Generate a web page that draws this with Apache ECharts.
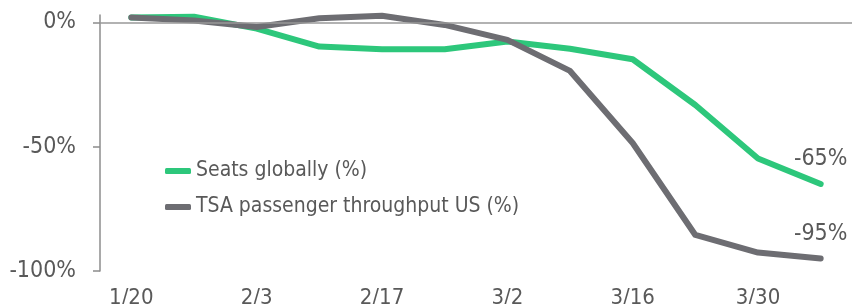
<!DOCTYPE html>
<html><head><meta charset="utf-8">
<script src="https://cdn.jsdelivr.net/npm/echarts@6/dist/echarts.min.js"></script>
<style>html,body{margin:0;padding:0;background:#fff}#c{width:852px;height:304px}</style>
</head><body><div id="c"></div>
<script>
var categories = ['1/20','1/27','2/3','2/10','2/17','2/24','3/2','3/9','3/16','3/23','3/30','4/6'];
var seatsGlobally = [2, 2.3, -2.5, -9.7, -10.8, -10.8, -7.7, -10.6, -14.8, -33.2, -54.7, -65];
var tsaThroughput = [2, 0.8, -1.8, 1.7, 2.7, -1, -7, -19.5, -48.5, -85.5, -92.6, -95];
var yTicks = [-100, -50, 0];
var seriesNames = ['Seats globally (%)', 'TSA passenger throughput US (%)'];
var endLabels = ['-65%', '-95%'];

var FONT = "'Liberation Sans Narrow','DejaVu Sans Condensed','Open Sans',sans-serif";
var TXT = '#595959';
var chart = echarts.init(document.getElementById('c'), null, {renderer: 'canvas'});
function endMark(values, text) {
  var last = values.length - 1;
  return {
    silent: true, symbol: 'circle', symbolSize: 0, animation: false,
    label: {show: true, position: 'top', distance: 13, formatter: text,
            color: TXT, fontFamily: FONT, fontSize: 23},
    data: [{coord: [last, values[last]]}]
  };
}
chart.setOption({
  animation: false,
  grid: {left: 100, right: 0, top: 15, bottom: 33, containLabel: false, outerBoundsMode: 'none'},
  legend: {
    orient: 'vertical', left: 160, top: 152, itemGap: 8,
    itemWidth: 26, itemHeight: 6, icon: 'roundRect',
    textStyle: {color: TXT, fontFamily: FONT, fontSize: 21, lineHeight: 28},
    data: seriesNames
  },
  xAxis: {
    type: 'category', data: categories, boundaryGap: true,
    axisLine: {show: false}, axisTick: {show: false},
    axisLabel: {interval: 1, color: TXT, fontFamily: FONT, fontSize: 22, margin: 16}
  },
  yAxis: {
    type: 'value', min: -100, max: 3, interval: 50,
    splitLine: {show: false},
    axisLine: {show: true, lineStyle: {color: '#8c8c8c', width: 1.5}},
    axisTick: {show: true, length: 7, customValues: yTicks, lineStyle: {color: '#8c8c8c', width: 1.5}},
    axisLabel: {customValues: yTicks, formatter: '{value}%', color: TXT, fontFamily: FONT, fontSize: 23, margin: 24}
  },
  series: [
    {
      name: seriesNames[0], type: 'line', data: seatsGlobally, symbol: 'none',
      itemStyle: {color: '#2dc77b'},
      lineStyle: {color: '#2dc77b', width: 6, cap: 'round', join: 'round'},
      markPoint: endMark(seatsGlobally, endLabels[0]),
      markLine: {
        silent: true, symbol: 'none', label: {show: false},
        lineStyle: {color: '#999999', width: 1.5, type: 'solid'},
        data: [{yAxis: 0}]
      }
    },
    {
      name: seriesNames[1], type: 'line', data: tsaThroughput, symbol: 'none',
      itemStyle: {color: '#6d6d72'},
      lineStyle: {color: '#6d6d72', width: 6, cap: 'round', join: 'round'},
      markPoint: endMark(tsaThroughput, endLabels[1])
    }
  ]
});
</script></body></html>
